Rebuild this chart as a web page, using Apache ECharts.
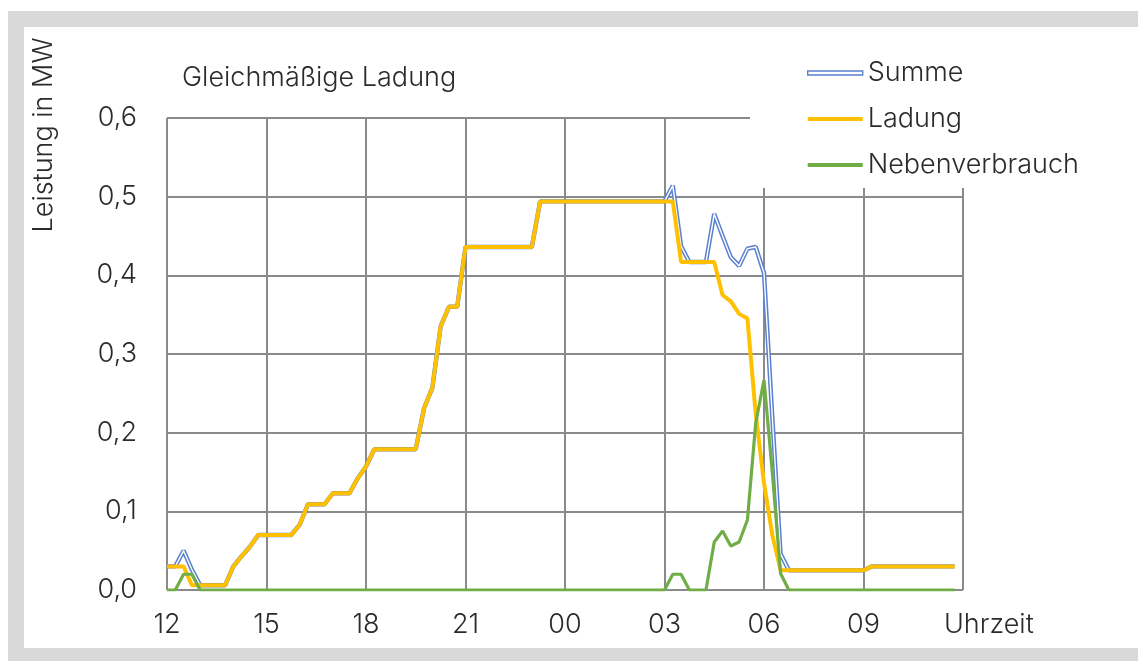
<!DOCTYPE html>
<html>
<head>
<meta charset="utf-8">
<script src="https://cdn.jsdelivr.net/npm/echarts@6/dist/echarts.min.js"></script>
<style>
  html, body { margin: 0; padding: 0; background: #ffffff; }
  #frame {
    position: absolute; left: 8px; top: 11px; width: 1200px; height: 700px;
    background: #d9d9d9;
  }
  #frame-inner {
    position: absolute; left: 16px; top: 16px; width: 1200px; height: 621px;
    background: #ffffff;
  }
  #chart { position: absolute; left: 0; top: 0; width: 1138px; height: 661px; }
</style>
</head>
<body>
<div id="frame"><div id="frame-inner"></div></div>
<div id="chart"></div>
<script>
// Leistung über 24 Stunden ab 12:00 Uhr, in Viertelstunden-Schritten (MW)
const ladung = [
  0.03, 0.03, 0.03, 0.006, 0.006, 0.006, 0.006, 0.006, 0.03, 0.043, 0.055, 0.07,
  0.07, 0.07, 0.07, 0.07, 0.083, 0.109, 0.109, 0.109, 0.123, 0.123, 0.123, 0.142,
  0.157, 0.179, 0.179, 0.179, 0.179, 0.179, 0.179, 0.231, 0.257, 0.335, 0.36, 0.36,
  0.436, 0.436, 0.436, 0.436, 0.436, 0.436, 0.436, 0.436, 0.436, 0.494, 0.494, 0.494,
  0.494, 0.494, 0.494, 0.494, 0.494, 0.494, 0.494, 0.494, 0.494, 0.494, 0.494, 0.494,
  0.494, 0.494, 0.417, 0.417, 0.417, 0.417, 0.417, 0.375, 0.367, 0.351, 0.345, 0.224,
  0.136, 0.07, 0.025, 0.025, 0.025, 0.025, 0.025, 0.025, 0.025, 0.025, 0.025, 0.025,
  0.025, 0.03, 0.03, 0.03, 0.03, 0.03, 0.03, 0.03, 0.03, 0.03, 0.03, 0.03
];
const nebenverbrauch = [
  0, 0, 0.02, 0.02, 0, 0, 0, 0, 0, 0, 0, 0,
  0, 0, 0, 0, 0, 0, 0, 0, 0, 0, 0, 0,
  0, 0, 0, 0, 0, 0, 0, 0, 0, 0, 0, 0,
  0, 0, 0, 0, 0, 0, 0, 0, 0, 0, 0, 0,
  0, 0, 0, 0, 0, 0, 0, 0, 0, 0, 0, 0,
  0, 0.02, 0.02, 0, 0, 0, 0.061, 0.075, 0.056, 0.061, 0.089, 0.212,
  0.267, 0.15, 0.021, 0, 0, 0, 0, 0, 0, 0, 0, 0,
  0, 0, 0, 0, 0, 0, 0, 0, 0, 0, 0, 0
];
const summe = [
  0.03, 0.03, 0.05, 0.026, 0.006, 0.006, 0.006, 0.006, 0.03, 0.043, 0.055, 0.07,
  0.07, 0.07, 0.07, 0.07, 0.083, 0.109, 0.109, 0.109, 0.123, 0.123, 0.123, 0.142,
  0.157, 0.179, 0.179, 0.179, 0.179, 0.179, 0.179, 0.231, 0.257, 0.335, 0.36, 0.36,
  0.436, 0.436, 0.436, 0.436, 0.436, 0.436, 0.436, 0.436, 0.436, 0.494, 0.494, 0.494,
  0.494, 0.494, 0.494, 0.494, 0.494, 0.494, 0.494, 0.494, 0.494, 0.494, 0.494, 0.494,
  0.494, 0.514, 0.437, 0.417, 0.417, 0.417, 0.478, 0.45, 0.423, 0.412, 0.434, 0.436,
  0.403, 0.22, 0.046, 0.025, 0.025, 0.025, 0.025, 0.025, 0.025, 0.025, 0.025, 0.025,
  0.025, 0.03, 0.03, 0.03, 0.03, 0.03, 0.03, 0.03, 0.03, 0.03, 0.03, 0.03
];
// Beschriftung alle drei Stunden; die letzte Marke (12 Uhr) bleibt leer
const tickLabels = ['12', '15', '18', '21', '00', '03', '06', '09', ''];
const seriesNames = ['Summe', 'Ladung', 'Nebenverbrauch'];

// Zeitachse: 12:00 bis 12:00 des Folgetags, 15-Minuten-Raster
const zeiten = [];
for (let q = 0; q <= 96; q++) {
  const min = (12 * 60 + q * 15) % (24 * 60);
  zeiten.push(String(Math.floor(min / 60)).padStart(2, '0') + ':' + String(min % 60).padStart(2, '0'));
}

const FONT = 'Inter';
const FW = 300;
const FS = 27;
const TXT = '#2b2b2b';
const GRID = '#8a8a8a';
const BLUE = '#5a80d0';
const YELLOW = '#ffc000';
const GREEN = '#70ad47';

const chart = echarts.init(document.getElementById('chart'), null, { renderer: 'canvas' });
chart.setOption({
  animation: false,
  backgroundColor: 'transparent',
  textStyle: { fontFamily: FONT },
  title: {
    text: 'Gleichmäßige Ladung',
    left: 182, top: 64, padding: 0,
    textStyle: { fontFamily: FONT, fontSize: FS, fontWeight: FW, color: TXT }
  },
  legend: {
    orient: 'vertical',
    left: 750, top: 48,
    padding: [10, 30, 8, 57],
    backgroundColor: '#ffffff',
    itemWidth: 55, itemHeight: 4, itemGap: 16,
    textStyle: { fontFamily: FONT, fontSize: FS, fontWeight: FW, color: TXT, lineHeight: 30 },
    data: [
      { name: seriesNames[0], icon: 'rect', itemStyle: { color: '#ffffff', borderColor: BLUE, borderWidth: 1.4 } },
      { name: seriesNames[1], icon: 'rect', itemStyle: { color: YELLOW, borderWidth: 0 } },
      { name: seriesNames[2], icon: 'rect', itemStyle: { color: GREEN, borderWidth: 0 } }
    ]
  },
  graphic: [{
    type: 'text',
    x: 44, y: 135,
    rotation: Math.PI / 2,
    style: {
      text: 'Leistung in MW',
      fontFamily: FONT, fontSize: FS, fontWeight: FW, fill: TXT,
      align: 'center', verticalAlign: 'middle'
    }
  }],
  grid: { left: 167, right: 175, top: 118, bottom: 71, containLabel: false },
  xAxis: {
    type: 'category',
    data: zeiten,
    boundaryGap: false,
    name: 'Uhrzeit',
    nameLocation: 'end',
    nameGap: -19,
    nameTextStyle: { fontFamily: FONT, fontSize: FS, fontWeight: FW, color: TXT, align: 'left', verticalAlign: 'top', padding: [21, 0, 0, 0] },
    axisLine: { show: false },
    axisTick: { show: false, interval: 11 },
    axisLabel: {
      interval: 11, margin: 21,
      fontFamily: FONT, fontSize: FS, fontWeight: FW, color: TXT,
      formatter: (v, i) => tickLabels[Math.round(i / 12)]
    },
    splitLine: { show: true, interval: 11, lineStyle: { color: GRID, width: 2 } }
  },
  yAxis: {
    type: 'value',
    min: 0, max: 0.6, interval: 0.1,
    axisLine: { show: false },
    axisTick: { show: false },
    axisLabel: {
      margin: 30,
      fontFamily: FONT, fontSize: FS, fontWeight: FW, color: TXT,
      formatter: v => v.toFixed(1).replace('.', ',')
    },
    splitLine: { show: true, lineStyle: { color: GRID, width: 2 } }
  },
  series: [
    {
      name: seriesNames[0], type: 'line', data: summe,
      symbol: 'none', z: 2,
      lineStyle: { color: BLUE, width: 4.4 }, itemStyle: { color: BLUE }
    },
    {
      // helle Mittellinie der Summenkurve (Doppellinie)
      name: 'Summe-Innen', type: 'line', data: summe,
      symbol: 'none', z: 3, silent: true,
      lineStyle: { color: '#ffffff', width: 1.4 }, itemStyle: { color: '#ffffff' }
    },
    {
      name: seriesNames[1], type: 'line', data: ladung,
      symbol: 'none', z: 4,
      lineStyle: { color: YELLOW, width: 4 }, itemStyle: { color: YELLOW }
    },
    {
      name: seriesNames[2], type: 'line', data: nebenverbrauch,
      symbol: 'none', z: 5,
      lineStyle: { color: GREEN, width: 3.2 }, itemStyle: { color: GREEN }
    }
  ]
});
</script>
</body>
</html>
